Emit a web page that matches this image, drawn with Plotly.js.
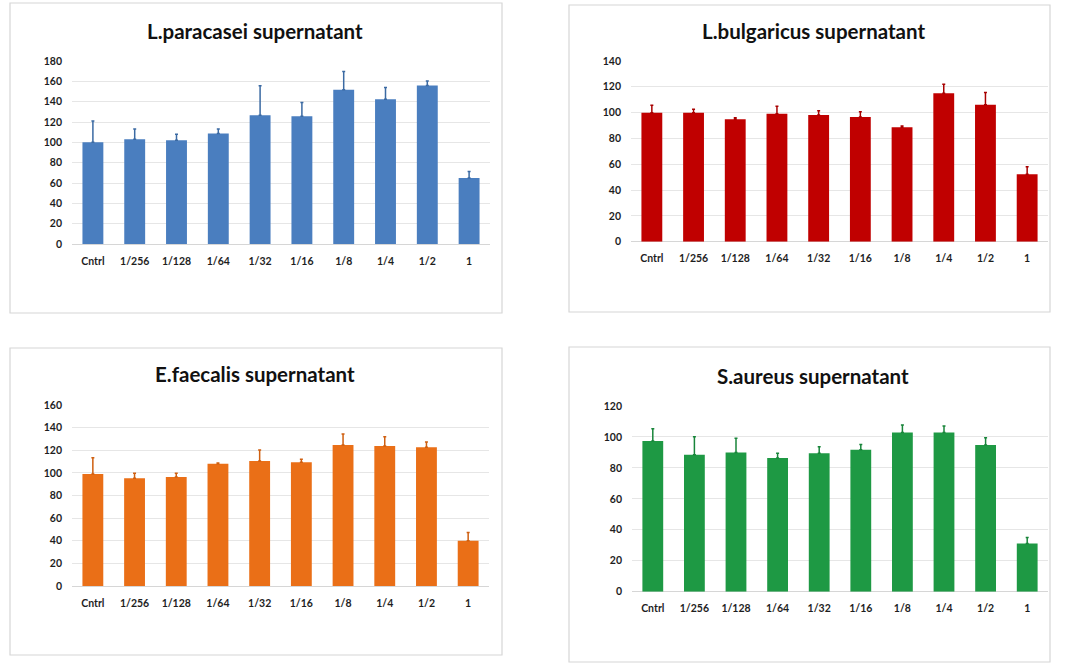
<!DOCTYPE html>
<html>
<head>
<meta charset="utf-8">
<script src="https://cdn.plot.ly/plotly-3.0.1.min.js"></script>
<style>
  html, body { margin: 0; padding: 0; background: #ffffff; }
  #chart { width: 1084px; height: 664px; }
</style>
</head>
<body>
<div id="chart"></div>
<script>
// Dilution levels shared by all four panels
const categories = ['Cntrl', '1/256', '1/128', '1/64', '1/32', '1/16', '1/8', '1/4', '1/2', '1'];

// L.paracasei supernatant: mean and upper error
const paracasei    = [100, 103, 102, 108.7, 126.7, 125.7, 151.6, 142.4, 155.8, 64.8];
const paracaseiErr = [21, 10, 6, 4.5, 29, 13.5, 18, 11.5, 4.5, 6.5];

// L.bulgaricus supernatant
const bulgaricus    = [100, 100, 94.8, 99.2, 98.2, 96.6, 88.6, 115, 106.2, 52.2];
const bulgaricusErr = [5.7, 2.6, 1.3, 5.7, 3.3, 4.1, 1, 6.9, 9.3, 5.9];

// E.faecalis supernatant
const faecalis    = [99, 95.2, 96.3, 108.1, 110.5, 109.3, 124.6, 123.7, 122.6, 40.1];
const faecalisErr = [14.4, 4.4, 3.3, 0.6, 9.7, 2.7, 9.8, 8.3, 4.7, 7.3];

// S.aureus supernatant
const aureus    = [97.4, 88.5, 90, 86.4, 89.4, 91.8, 102.8, 102.8, 94.8, 31.2];
const aureusErr = [7.9, 11.7, 9.1, 3, 4.3, 3.4, 4.9, 4.3, 4.7, 3.9];

const titles = ['L.paracasei supernatant', 'L.bulgaricus supernatant',
                'E.faecalis supernatant', 'S.aureus supernatant'];

const W = 1084, H = 664;
const px = v => v / W;
const py = v => 1 - v / H;

const panels = [
  { y: paracasei,  err: paracaseiErr,  color: '#4a7ebf', errColor: '#3b6aa3', max: 180, dtick: 20,
    x0: 72, x1: 490, yb: 244, yt: 61, box: [10, 3, 502, 313], title: [255, 31] },
  { y: bulgaricus, err: bulgaricusErr, color: '#c00000', errColor: '#a80000', max: 140, dtick: 20,
    x0: 631, x1: 1048, yb: 241.7, yt: 61, box: [569, 5, 1050, 312], title: [813, 31] },
  { y: faecalis,   err: faecalisErr,   color: '#ea6f17', errColor: '#cf5f10', max: 160, dtick: 20,
    x0: 72, x1: 489, yb: 586, yt: 405, box: [10, 348, 502, 655], title: [255, 374] },
  { y: aureus,     err: aureusErr,     color: '#1e9944', errColor: '#18853a', max: 120, dtick: 20,
    x0: 632, x1: 1048, yb: 591.7, yt: 406, box: [569, 347, 1050, 662], title: [813, 376] }
];

const tickFont = { family: 'Lato, "Open Sans", sans-serif', size: 10.5, color: '#1e1e1e', weight: 'bold' };

const data = [];
const layout = {
  width: W, height: H,
  margin: { l: 0, r: 0, t: 0, b: 0 },
  paper_bgcolor: '#ffffff',
  plot_bgcolor: 'rgba(0,0,0,0)',
  showlegend: false,
  bargap: 0.5,
  shapes: [],
  annotations: []
};

panels.forEach((p, i) => {
  const n = i === 0 ? '' : String(i + 1);
  data.push({
    type: 'bar',
    x: categories,
    y: p.y,
    xaxis: 'x' + n,
    yaxis: 'y' + n,
    marker: { color: p.color, line: { width: 0 } },
    error_y: {
      type: 'data', symmetric: false,
      array: p.err,
      arrayminus: p.err.map(() => 0),
      color: p.errColor, thickness: 1.5, width: 1.5
    },
    hoverinfo: 'none'
  });

  layout['xaxis' + n] = {
    domain: [px(p.x0), px(p.x1)],
    anchor: 'y' + n,
    type: 'category',
    showgrid: false, showline: false, zeroline: false,
    ticks: '', tickfont: tickFont, ticklabelstandoff: 9,
    fixedrange: true
  };
  layout['yaxis' + n] = {
    domain: [py(p.yb), py(p.yt)],
    anchor: 'x' + n,
    range: [0, p.max],
    dtick: p.dtick, tick0: 0,
    showgrid: true, gridcolor: '#e6e6e6', gridwidth: 1,
    zeroline: true, zerolinecolor: '#d6d6d6', zerolinewidth: 1,
    showline: false, ticks: '',
    tickfont: tickFont, ticklabelstandoff: 9,
    fixedrange: true
  };

  layout.shapes.push({
    type: 'rect', xref: 'paper', yref: 'paper', layer: 'below',
    x0: px(p.box[0]), x1: px(p.box[2]), y0: py(p.box[3]), y1: py(p.box[1]),
    line: { color: '#d6d6d6', width: 1.2 }, fillcolor: '#ffffff'
  });

  layout.annotations.push({
    xref: 'paper', yref: 'paper',
    x: px(p.title[0]), y: py(p.title[1]),
    xanchor: 'center', yanchor: 'middle',
    text: titles[i], showarrow: false,
    font: { family: 'Lato, "Open Sans", sans-serif', size: 20.5, color: '#111111', weight: 'bold' }
  });
});

Plotly.newPlot('chart', data, layout, { staticPlot: true, displayModeBar: false });
</script>
</body>
</html>
